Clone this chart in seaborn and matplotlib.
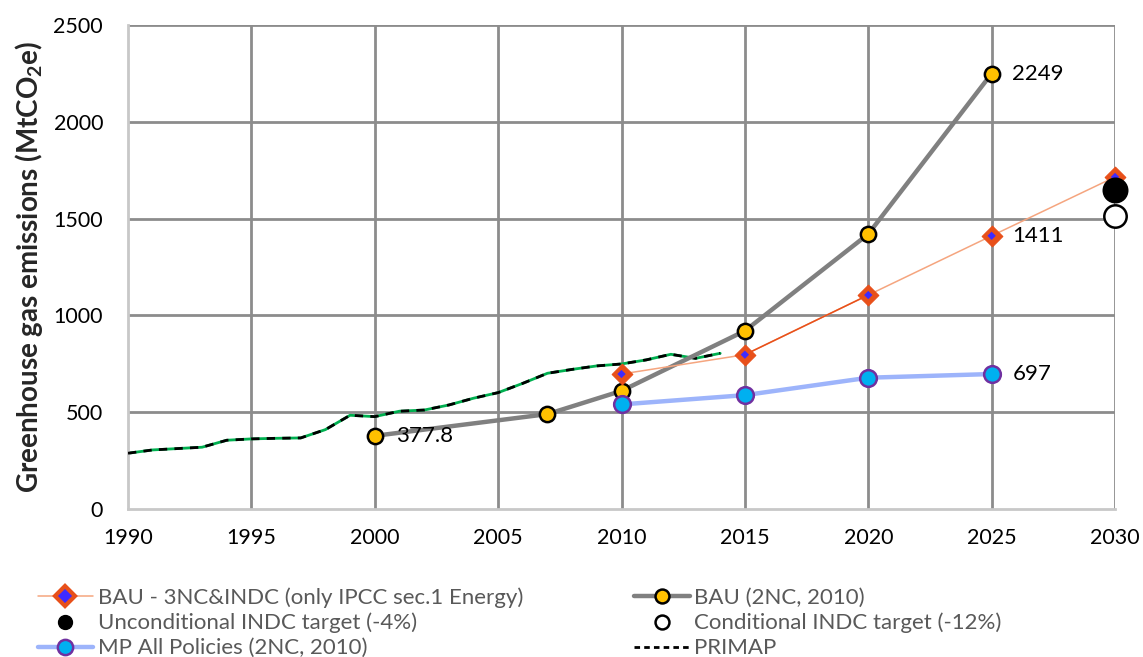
import matplotlib
matplotlib.use("Agg")
import matplotlib.pyplot as plt
from matplotlib.lines import Line2D
import seaborn as sns

# ---- data ----
primap_years = list(range(1990, 2015))
primap_vals = [288, 305, 312, 319, 355, 362, 365, 367, 410, 484, 477,
               505, 511, 537, 572, 601, 649, 701, 721, 739, 749, 770, 799, 778, 804]

bau2nc_years = [2000, 2007, 2010, 2015, 2020, 2025]
bau2nc_vals = [377.8, 490, 610, 920, 1420, 2249]

bau3nc_years = [2010, 2015, 2020, 2025, 2030]
bau3nc_vals = [697, 797, 1105, 1411, 1715]

mp_years = [2010, 2015, 2020, 2025]
mp_vals = [540, 588, 678, 697]

uncond_year = [2030]
uncond_val = [1648]
cond_year = [2030]
cond_val = [1513]

labels_legend = ["BAU - 3NC&INDC (only IPCC sec.1 Energy)",
                 "Unconditional INDC target (-4%)",
                 "MP All Policies (2NC, 2010)",
                 "BAU (2NC, 2010)",
                 "Conditional INDC target (-12%)",
                 "PRIMAP"]

annot_points = [(2000, 377.8, "377.8"), (2025, 2249, "2249"),
                (2025, 1411, "1411"), (2025, 697, "697")]

x_ticks = list(range(1990, 2031, 5))
y_ticks = [0, 500, 1000, 1500, 2000, 2500]
y_label = "Greenhouse gas emissions (MtCO$_\\mathbf{2}$e)"

# ---- style ----
sns.set_style("white")
plt.rcParams["font.family"] = ["Lato", "DejaVu Sans"]
plt.rcParams["mathtext.fontset"] = "custom"
plt.rcParams["mathtext.bf"] = "Lato:bold"
plt.rcParams["mathtext.rm"] = "Lato"

fig = plt.figure(figsize=(11.43, 6.57), dpi=100)
ax = fig.add_axes([0.112, 0.2253, 0.8635, 0.7367])

GRID = "#8c8c8c"
for yv in y_ticks[1:]:
    ax.axhline(yv, color=GRID, lw=2, zorder=0)
for xv in x_ticks[1:]:
    ax.axvline(xv, color=GRID, lw=2, zorder=0)

# PRIMAP: green solid under black dashes
sns.lineplot(x=primap_years, y=primap_vals, ax=ax, color="#00b050", lw=2, zorder=2)
sns.lineplot(x=primap_years, y=primap_vals, ax=ax, color="black", lw=2,
             linestyle=(0, (3, 2.6)), zorder=3)

# BAU 2NC
sns.lineplot(x=bau2nc_years, y=bau2nc_vals, ax=ax, color="#808080", lw=3.2, zorder=4,
             marker="o", markersize=11, markerfacecolor="#ffc000",
             markeredgecolor="black", markeredgewidth=1.8)

# MP
sns.lineplot(x=mp_years, y=mp_vals, ax=ax, color="#9db4fb", lw=3.2, zorder=4,
             marker="o", markersize=12, markerfacecolor="#00b0f0",
             markeredgecolor="#7030a0", markeredgewidth=1.8)

# BAU 3NC
sns.lineplot(x=bau3nc_years, y=bau3nc_vals, ax=ax, color="#f5a57f", lw=1.1, zorder=5)
sns.lineplot(x=bau3nc_years[1:3], y=bau3nc_vals[1:3], ax=ax, color="#e8501a", lw=1.1, zorder=5)
sns.scatterplot(x=bau3nc_years, y=bau3nc_vals, ax=ax, marker="D", s=110,
                color="#e8501a", edgecolor="#e8501a", zorder=6, clip_on=False)
sns.scatterplot(x=bau3nc_years, y=bau3nc_vals, ax=ax, marker="D", s=18,
                color="#3d2bff", edgecolor="none", zorder=7, clip_on=False)

# targets
sns.scatterplot(x=uncond_year, y=uncond_val, ax=ax, marker="o", s=300,
                color="black", edgecolor="black", zorder=8, clip_on=False)
sns.scatterplot(x=cond_year, y=cond_val, ax=ax, marker="o", s=260,
                color="white", edgecolor="black", linewidth=1.8, zorder=8, clip_on=False)

for xv, yv, t in annot_points:
    ax.annotate(t, (xv, yv), xytext=(15, 0), textcoords="offset points",
                ha="left", va="center", fontsize=16, color="black", zorder=9)

ax.set_xlim(1990, 2030)
ax.set_ylim(0, 2500)
ax.set_xticks(x_ticks)
ax.set_yticks(y_ticks)
ax.tick_params(axis="both", length=0, labelsize=15.5, labelcolor="black")
ax.tick_params(axis="y", pad=18)
ax.tick_params(axis="x", pad=14)
ax.set_xlabel("")
ax.set_ylabel(y_label, fontsize=20, fontweight="bold", labelpad=6)

for s in ["top", "right"]:
    ax.spines[s].set_visible(False)
for s in ["left", "bottom"]:
    ax.spines[s].set_color("#c8c8c8")
    ax.spines[s].set_linewidth(2)

# legend
h_bau3 = Line2D([], [], color="#f5a57f", lw=1.1, marker="D", markersize=10,
                markerfacecolor="#3d2bff", markeredgecolor="#e8501a", markeredgewidth=3)
h_unc = Line2D([], [], ls="none", marker="o", markersize=10, color="black")
h_mp = Line2D([], [], color="#9db4fb", lw=3.2, marker="o", markersize=11,
              markerfacecolor="#00b0f0", markeredgecolor="#7030a0", markeredgewidth=1.8)
h_bau2 = Line2D([], [], color="#808080", lw=3.2, marker="o", markersize=10,
                markerfacecolor="#ffc000", markeredgecolor="black", markeredgewidth=1.8)
h_con = Line2D([], [], ls="none", marker="o", markersize=10, markerfacecolor="white",
               markeredgecolor="black", markeredgewidth=1.8)
h_pri = Line2D([], [], color="black", lw=2, linestyle=(0, (2, 1.5)))
leg = fig.legend([h_bau3, h_unc, h_mp, h_bau2, h_con, h_pri], labels_legend,
                 loc="upper left", bbox_to_anchor=(0.033, 0.106), ncol=2,
                 frameon=False, fontsize=16, labelcolor="#595959",
                 handlelength=2.5, handletextpad=0.2, labelspacing=0.22,
                 columnspacing=5.0, borderaxespad=0, borderpad=0)

fig.savefig("out.png", dpi=100)
